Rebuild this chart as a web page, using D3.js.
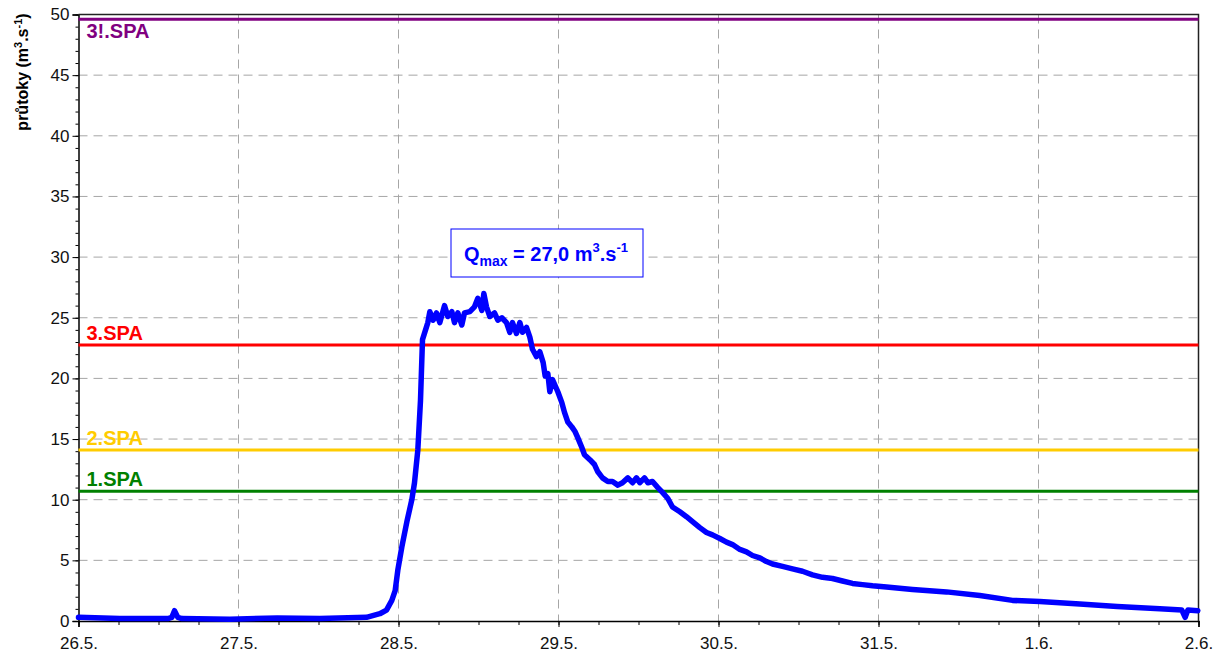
<!DOCTYPE html>
<meta charset="utf-8">
<script src="https://d3js.org/d3.v7.min.js"></script>
<style>
    body { margin: 0; background: #fff; }
    svg { font-family: Arial, "Liberation Sans", sans-serif; }
</style>
<div id="chart"></div>
<script>

    // hours since 26.5. 00:00
    var hours = [0, 6.2, 13.4, 14.0, 14.4, 14.9, 15.5, 22.7, 29.8, 36.2, 43.2, 45.2, 46.2, 47.0, 47.5, 47.9,
        48.5, 49.3, 50.0, 50.4, 50.9, 51.3, 51.6, 52.4, 52.7, 53.2, 53.7, 54.2, 54.9, 55.4, 56.0, 56.4,
        56.9, 57.5, 57.9, 58.7, 59.4, 59.9, 60.5, 60.8, 61.2, 61.7, 62.4, 62.9, 63.5, 64.2, 64.7, 65.1,
        65.7, 66.2, 66.6, 67.2, 67.7, 68.1, 68.7, 69.2, 69.7, 70.0, 70.4, 70.7, 71.1, 71.9, 72.5, 72.9,
        73.4, 74.0, 74.5, 74.9, 75.5, 75.9, 76.7, 77.4, 77.9, 78.6, 79.4, 80.1, 80.9, 81.6, 82.4, 83.1,
        83.7, 84.2, 84.9, 85.4, 86.1, 86.9, 87.6, 88.4, 89.1, 90.2, 91.2, 92.1, 93.2, 94.2, 95.1, 96.2,
        97.2, 98.1, 99.2, 100.2, 101.1, 102.2, 103.2, 104.1, 105.6, 107.1, 108.6, 110.1, 111.6, 113.1,
        114.6, 116.1, 117.6, 119.1, 121.2, 125.1, 130.2, 135.2, 140.1, 144.2, 150.2, 155.8, 162.2, 165.5,
        166.0, 166.4, 167.9];

    // discharge (m3/s)
    var flow = [0.3, 0.2, 0.2, 0.3, 0.85, 0.3, 0.2, 0.15, 0.25, 0.2, 0.3, 0.6, 0.9, 1.7, 2.5, 4.2,
        6.1, 8.3, 10.0, 11.4, 14.1, 18.2, 23.2, 24.6, 25.5, 24.8, 25.4, 24.6, 26.0, 25.1, 25.5, 24.6,
        25.4, 24.4, 25.4, 25.5, 25.9, 26.6, 25.6, 27.0, 25.9, 25.1, 25.4, 24.8, 25.0, 24.6, 23.8, 24.6,
        23.7, 24.6, 23.8, 24.2, 23.4, 22.4, 21.8, 22.2, 21.3, 20.2, 20.4, 18.9, 19.9, 18.9, 18.0, 17.2,
        16.4, 16.0, 15.6, 15.1, 14.3, 13.7, 13.3, 12.9, 12.3, 11.8, 11.5, 11.5, 11.2, 11.4, 11.8, 11.4,
        11.8, 11.4, 11.8, 11.4, 11.5, 11.0, 10.6, 10.1, 9.4, 9.0, 8.6, 8.2, 7.7, 7.3, 7.1, 6.8,
        6.5, 6.3, 5.9, 5.7, 5.4, 5.2, 4.9, 4.7, 4.5, 4.3, 4.1, 3.8, 3.6, 3.5,
        3.3, 3.1, 3.0, 2.9, 2.8, 2.6, 2.4, 2.1, 1.7, 1.6, 1.4, 1.2, 1.0, 0.9,
        0.3, 0.9, 0.85];

    // flood activity levels (stupně povodňové aktivity)
    var spaNames = ["3!.SPA", "3.SPA", "2.SPA", "1.SPA"];
    var spaValues = [49.6, 22.75, 14.1, 10.7];
    var spaColors = ["#800080", "#ff0000", "#ffcc00", "#008000"];

    var dayLabels = ["26.5.", "27.5.", "28.5.", "29.5.", "30.5.", "31.5.", "1.6.", "2.6."];
    var yTicks = [0, 5, 10, 15, 20, 25, 30, 35, 40, 45, 50];

    var W = 1221, H = 658;
    var margin = {top: 14.5, right: 22.5, bottom: 37, left: 78.5};
    var width = W - margin.left - margin.right,
        height = H - margin.top - margin.bottom;

    var svg = d3.select("#chart").append("svg")
        .attr("width", W).attr("height", H);
    var g = svg.append("g")
        .attr("transform", "translate(" + margin.left + "," + margin.top + ")");

    var x = d3.scaleLinear().domain([0, 168]).range([0, width]);
    var y = d3.scaleLinear().domain([0, 50]).range([height, 0]);

    // grid
    g.append("g").selectAll("line")
        .data(yTicks.filter(function(d) { return d > 0 && d < 50; }))
        .enter().append("line")
        .attr("x1", 0).attr("x2", width)
        .attr("y1", function(d) { return y(d); }).attr("y2", function(d) { return y(d); })
        .attr("stroke", "#a6a6a6").attr("stroke-dasharray", "9,6");
    g.append("g").selectAll("line")
        .data(d3.range(24, 168, 24))
        .enter().append("line")
        .attr("y1", 0).attr("y2", height)
        .attr("x1", function(d) { return x(d); }).attr("x2", function(d) { return x(d); })
        .attr("stroke", "#a6a6a6").attr("stroke-dasharray", "9,6");

    // minor ticks
    g.append("g").attr("transform", "translate(0," + height + ")")
        .call(d3.axisBottom(x).tickValues(d3.range(0, 169, 6)).tickSize(4).tickFormat(""))
        .call(function(a) { a.select(".domain").remove(); });
    g.append("g")
        .call(d3.axisLeft(y).tickValues(d3.range(0, 51, 1)).tickSize(3).tickFormat(""))
        .call(function(a) { a.select(".domain").remove(); });

    // major axes
    var xAxis = g.append("g").attr("transform", "translate(0," + height + ")")
        .call(d3.axisBottom(x).tickValues(d3.range(0, 169, 24)).tickSize(6).tickPadding(10)
            .tickFormat(function(d, i) { return dayLabels[i]; }));
    var yAxis = g.append("g")
        .call(d3.axisLeft(y).tickValues(yTicks).tickSize(6).tickPadding(3));
    [xAxis, yAxis].forEach(function(a) {
        a.selectAll("text").attr("font-size", 17).attr("fill", "#111")
            .attr("font-family", "Arial, 'Liberation Sans', sans-serif");
        a.select(".domain").attr("stroke-width", 1.5);
    });

    // frame top/right
    g.append("path")
        .attr("d", "M0,0H" + width + "V" + height)
        .attr("fill", "none").attr("stroke", "#222").attr("stroke-width", 1.5);

    // SPA lines
    spaValues.forEach(function(v, i) {
        g.append("line")
            .attr("x1", 0).attr("x2", width)
            .attr("y1", y(v)).attr("y2", y(v))
            .attr("stroke", spaColors[i]).attr("stroke-width", 3);
        g.append("text")
            .attr("x", 8)
            .attr("y", i === 0 ? y(v) + 19 : y(v) - 5)
            .attr("fill", spaColors[i])
            .attr("font-size", 20).attr("font-weight", "bold")
            .text(spaNames[i]);
    });

    // hydrograph
    var data = hours.map(function(h, i) { return [h, flow[i]]; });
    g.append("path")
        .datum(data)
        .attr("d", d3.line().x(function(d) { return x(d[0]); }).y(function(d) { return y(d[1]); }))
        .attr("fill", "none").attr("stroke", "#0000ff").attr("stroke-width", 5.5)
        .attr("stroke-linejoin", "round").attr("stroke-linecap", "round");

    // Qmax box
    var qmax = d3.max(flow);
    svg.append("rect")
        .attr("x", 451).attr("y", 229).attr("width", 192).attr("height", 48)
        .attr("fill", "#fff").attr("stroke", "#0000ff").attr("stroke-width", 1);
    var qt = svg.append("text")
        .attr("x", 546).attr("y", 261).attr("text-anchor", "middle")
        .attr("fill", "#0000ff").attr("font-size", 20).attr("font-weight", "bold");
    qt.append("tspan").text("Q");
    qt.append("tspan").attr("font-size", 14).attr("dy", 5).text("max");
    qt.append("tspan").attr("dy", -5).text(" = " + qmax.toFixed(1).replace(".", ",") + " m");
    qt.append("tspan").attr("font-size", 13).attr("dy", -9).text("3");
    qt.append("tspan").attr("dy", 9).text(".s");
    qt.append("tspan").attr("font-size", 13).attr("dy", -9).text("-1");

    // y label
    var yl = svg.append("text")
        .attr("transform", "translate(28,72) rotate(-90)")
        .attr("text-anchor", "middle")
        .attr("font-size", 16).attr("font-weight", "bold").attr("fill", "#000");
    yl.append("tspan").text("průtoky (m");
    yl.append("tspan").attr("font-size", 11).attr("dy", -6).text("3");
    yl.append("tspan").attr("dy", 6).text(".s");
    yl.append("tspan").attr("font-size", 11).attr("dy", -6).text("-1");
    yl.append("tspan").attr("dy", 6).text(")");

</script>
